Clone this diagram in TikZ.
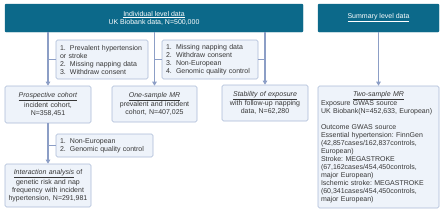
\documentclass[tikz,border=0pt]{standalone}
\usepackage{fontspec}
\setmainfont{Liberation Sans}
\usetikzlibrary{arrows.meta}
\frenchspacing
\definecolor{hdrcol}{RGB}{12,105,138}
\definecolor{boxfill}{RGB}{238,243,250}
\definecolor{boxline}{RGB}{170,186,214}
\definecolor{lncol}{RGB}{140,158,198}
\definecolor{txtcol}{RGB}{55,55,55}
\newcommand{\num}[1]{\makebox[10pt][l]{#1}}
\tikzset{
  hdr/.style={draw=hdrcol, fill=hdrcol, text=white, rounded corners=1pt, inner sep=0pt, align=center},
  lbox/.style={draw=boxline, fill=boxfill, rounded corners=1.5pt, line width=0.6pt, inner sep=0pt, text=txtcol},
  conn/.style={draw=lncol, line width=1.1pt},
  arr/.style={conn, -{Triangle[width=4.5pt,length=4pt]}}
}
\begin{document}
\begin{tikzpicture}[x=1pt,y=-1pt, font=\fontsize{7}{8}\selectfont\frenchspacing]
\useasboundingbox (0,0) rectangle (443,210);
\node[hdr, minimum width=298pt, minimum height=28pt] (top) at (154,18)
  {\underline{Individual level data}\\UK Biobank data, N=500,000};
\node[hdr, minimum width=121pt, minimum height=28pt] (sum) at (378.5,18)
  {\underline{Summary level data}};
\node[lbox, minimum width=92pt, minimum height=39pt, text width=84pt, align=left] (excl1) at (102,59.5)
  {\num{1.}Prevalent hypertension\\or stroke\\\num{2.}Missing napping data\\\num{3.}Withdraw consent};
\node[lbox, minimum width=96pt, minimum height=39pt, text width=88pt, align=left] (excl2) at (210,59.5)
  {\num{1.}Missing napping data\\\num{2.}Withdraw consent\\\num{3.}Non-European\\\num{4.}Genomic quality control};
\node[lbox, minimum width=86pt, minimum height=37pt, text width=80pt, align=center] (pros) at (48,104.5)
  {\underline{\emph{Prospective cohort}}\\incident cohort,\\N=358,451};
\node[lbox, minimum width=85pt, minimum height=36pt, text width=80pt, align=center] (one) at (154.5,104)
  {\underline{\emph{One-sample MR}}\\prevalent and incident\\cohort, N=407,025};
\node[lbox, minimum width=86pt, minimum height=36pt, text width=80pt, align=center] (stab) at (265,103)
  {\underline{\emph{Stability of exposure}}\\with follow-up napping\\data, N=62,280};
\node[lbox, minimum width=97pt, minimum height=23pt, text width=89pt, align=left] (excl3) at (104.5,145.5)
  {\num{1.}Non-European\\\num{2.}Genomic quality control};
\node[lbox, minimum width=86pt, minimum height=43pt, text width=82pt, align=center] (inter) at (48,185.5)
  {\underline{\emph{Interaction analysis}} of\\genetic risk and nap\\frequency with incident\\hypertension, N=291,981};
\node[lbox, minimum width=121pt, minimum height=122pt, text width=115pt, align=left] (two) at (378.5,147)
  {\makebox[115pt]{\underline{\emph{Two-sample MR}}}\\
   Exposure GWAS source\\
   UK Biobank(N=452,633, European)\\[8pt]
   Outcome GWAS source\\
   Essential hypertension: FinnGen\\
   (42,857cases/162,837controls,\\
   European)\\
   Stroke: MEGASTROKE\\
   (67,162cases/454,450controls,\\
   major European)\\
   Ischemic stroke: MEGASTROKE\\
   (60,341cases/454,450controls,\\
   major European)};
\draw[arr] (top.south -| pros.north) -- (pros.north);
\draw[arr] (top.south -| one.north) -- (one.north);
\draw[arr] (top.south -| stab.north) -- (stab.north);
\draw[conn] (excl1.west) -- (excl1.west -| pros.north);
\draw[conn] (excl2.west) -- (excl2.west -| one.north);
\draw[conn] (excl2.east) -- (excl2.east -| stab.north);
\draw[arr] (pros.south) -- (inter.north);
\draw[conn] (excl3.west) -- (excl3.west -| pros.south);
\draw[arr] (sum.south) -- (two.north);
\end{tikzpicture}
\end{document}
